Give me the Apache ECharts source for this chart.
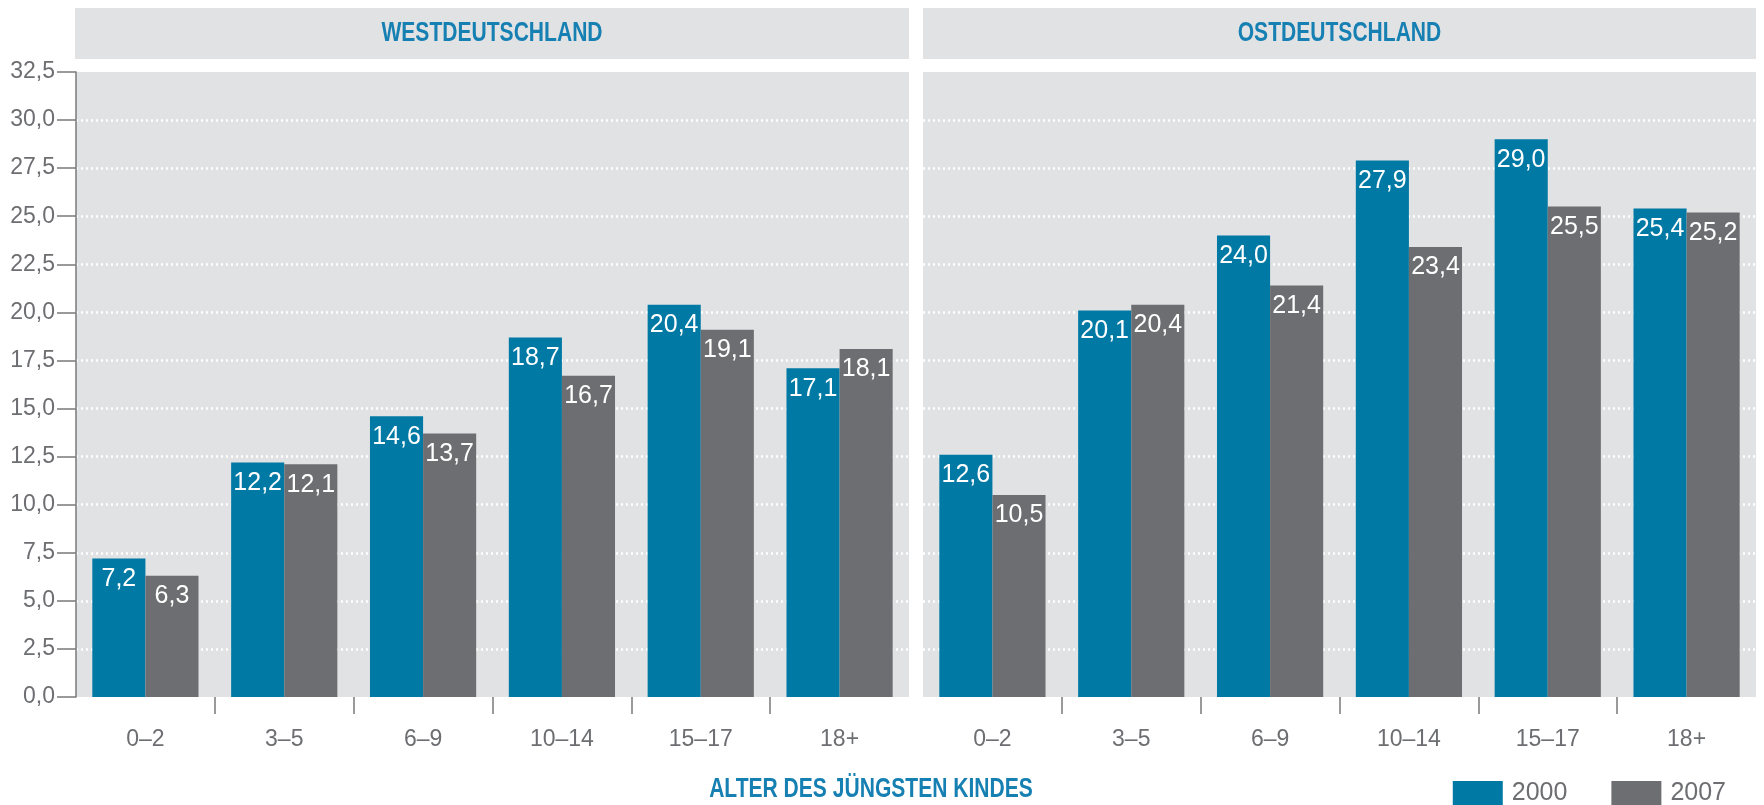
<!DOCTYPE html>
<html>
<head>
<meta charset="utf-8">
<script src="https://cdn.jsdelivr.net/npm/echarts@6/dist/echarts.min.js"></script>
<style>
html,body{margin:0;padding:0;background:#fff;}
#chart{width:1764px;height:805px;}
</style>
</head>
<body>
<div id="chart"></div>
<script>
const categories = ['0–2', '3–5', '6–9', '10–14', '15–17', '18+'];
const seriesNames = ['2000', '2007'];
const west2000 = [7.2, 12.2, 14.6, 18.7, 20.4, 17.1];
const west2007 = [6.3, 12.1, 13.7, 16.7, 19.1, 18.1];
const east2000 = [12.6, 20.1, 24.0, 27.9, 29.0, 25.4];
const east2007 = [10.5, 20.4, 21.4, 23.4, 25.5, 25.2];
const panelTitles = ['WESTDEUTSCHLAND', 'OSTDEUTSCHLAND'];
const xTitle = 'ALTER DES JÜNGSTEN KINDES';
const yMin = 0, yMax = 32.5, yStep = 2.5;

const FONT = "'Liberation Sans', Arial, sans-serif";
const TEAL = '#0079a4';
const GREY = '#6d6e71';
const PANEL = '#e1e2e4';
const TITLE_BLUE = '#1680b3';
const TEXT_GREY = '#6d6e71';

const fmt = v => Number(v).toFixed(1).replace('.', ',');

const grids = [
  {left: 76, right: 855, top: 72, bottom: 108},
  {left: 923, right: 8, top: 72, bottom: 108}
];
const panels = [
  {x: 75, w: 834},
  {x: 923, w: 833}
];

const chart = echarts.init(document.getElementById('chart'), null, {renderer: 'canvas'});

function catAxis(gi) {
  return {
    type: 'category', gridIndex: gi, data: categories, position: 'bottom',
    axisLine: {show: false}, axisTick: {show: false},
    axisLabel: {color: TEXT_GREY, fontFamily: FONT, fontSize: 23, margin: 31}
  };
}
function tickAxis(gi) {
  return {
    type: 'value', gridIndex: gi, min: 0, max: categories.length, interval: 1,
    position: 'bottom', offset: 0,
    axisLine: {show: false},
    axisTick: {show: true, length: 17, customValues: [1, 2, 3, 4, 5],
      lineStyle: {color: '#7a7a7a', width: 1.5}},
    axisLabel: {show: false}, splitLine: {show: false}
  };
}
function valAxis(gi, showAxis) {
  return {
    type: 'value', gridIndex: gi, min: yMin, max: yMax, interval: yStep,
    axisLine: {show: showAxis, lineStyle: {color: '#7a7a7a', width: 1.5}},
    axisTick: {show: showAxis, length: 19, lineStyle: {color: '#7a7a7a', width: 1.5}},
    axisLabel: {show: showAxis, color: TEXT_GREY, fontFamily: FONT, fontSize: 23, margin: 21,
      formatter: fmt},
    splitLine: {show: true, showMinLine: false, showMaxLine: false,
      lineStyle: {color: '#ffffff', width: 2.5, type: [2, 3]}}
  };
}
function barSeries(name, data, gi, color) {
  return {
    name: name, type: 'bar', xAxisIndex: gi, yAxisIndex: gi, data: data,
    barGap: '0%', barCategoryGap: '23.5%',
    itemStyle: {color: color},
    label: {show: true, position: 'insideTop', distance: 8, color: '#ffffff',
      fontFamily: FONT, fontSize: 25, formatter: p => fmt(p.value)},
    z: 3
  };
}

const graphics = [];
panels.forEach((p, i) => {
  graphics.push({type: 'rect', left: p.x, top: 8, shape: {width: p.w, height: 51},
    style: {fill: PANEL}, silent: true});
  graphics.push({type: 'text', x: p.x + p.w / 2, y: 34, scaleX: 0.78,
    style: {text: panelTitles[i], fill: TITLE_BLUE, font: "bold 27px " + FONT,
      textAlign: 'center', textVerticalAlign: 'middle'}, silent: true});
});
graphics.push({type: 'text', x: 871, y: 790, scaleX: 0.78,
  style: {text: xTitle, fill: TITLE_BLUE, font: "bold 27px " + FONT,
    textAlign: 'center', textVerticalAlign: 'middle'}, silent: true});

chart.setOption({
  animation: false,
  backgroundColor: '#ffffff',
  grid: grids.map(g => Object.assign({show: true, backgroundColor: PANEL, borderWidth: 0}, g)),
  xAxis: [catAxis(0), catAxis(1), tickAxis(0), tickAxis(1)],
  yAxis: [valAxis(0, true), valAxis(1, false)],
  legend: {
    data: seriesNames, right: 33, top: 776, itemWidth: 50, itemHeight: 25, itemGap: 44,
    icon: 'rect',
    textStyle: {color: TEXT_GREY, fontFamily: FONT, fontSize: 25, padding: [0, 0, 0, 4]}
  },
  graphic: graphics,
  series: [
    barSeries(seriesNames[0], west2000, 0, TEAL),
    barSeries(seriesNames[1], west2007, 0, GREY),
    barSeries(seriesNames[0], east2000, 1, TEAL),
    barSeries(seriesNames[1], east2007, 1, GREY)
  ]
});
</script>
</body>
</html>
